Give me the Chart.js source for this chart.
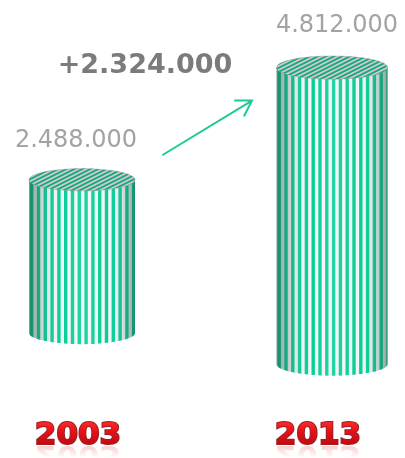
<!DOCTYPE html>
<html>
<head>
<meta charset="utf-8">
<script src="https://cdn.jsdelivr.net/npm/chart.js@4.4.1/dist/chart.umd.min.js"></script>
<style>
  html, body { margin: 0; padding: 0; background: #ffffff; }
  #wrap { width: 405px; height: 458px; position: relative; }
</style>
</head>
<body>
<div id="wrap"><canvas id="c" width="405" height="458"></canvas></div>
<script>
// Population totals per year
const years = ['2003', '2013'];
const totals = [2488000, 4812000];
const growthLabel = '+' + (totals[1] - totals[0]).toLocaleString('de-DE');

const TEAL = '#04cf98';
const fmt = v => v.toLocaleString('de-DE');

// Draws each bar as a striped 3D cylinder, plus value labels, growth arrow and year labels
const cylinderPlugin = {
  id: 'cylinders',
  afterDatasetsDraw(chart, args, opts) {
    const ctx = chart.ctx;
    const meta = chart.getDatasetMeta(0);
    const bars = meta.data.map((bar, i) => {
      const p = bar.getProps(['x', 'y', 'base', 'width'], true);
      // earlier year sits further back: a little smaller and higher
      const rear = i === 0;
      const w = p.width * (rear ? opts.rearShrink : 1);
      const lift = rear ? opts.rearLift : 0;
      return { cx: p.x, top: p.y - lift, bottom: p.base - lift, w, rx: w / 2, ry: w * 0.105 };
    });

    bars.forEach(b => drawCylinder(ctx, b));

    // value labels above each cylinder
    ctx.save();
    ctx.textAlign = 'center';
    ctx.textBaseline = 'alphabetic';
    ctx.font = '24px "DejaVu Sans", Verdana, sans-serif';
    ctx.fillStyle = '#a3a3a3';
    bars.forEach((b, i) => {
      ctx.fillText(fmt(totals[i]), b.cx - (i === 0 ? 6 : -5), b.top - b.ry - (i === 0 ? 22 : 24));
    });

    // growth annotation
    ctx.font = 'bold 27px "DejaVu Sans", Verdana, sans-serif';
    ctx.fillStyle = '#7b7b7b';
    ctx.fillText(growthLabel, bars[0].cx + 63, bars[1].top + 5);

    // arrow between the two cylinders
    const x0 = bars[0].cx + 81, y0 = bars[0].top - 25;
    const x1 = bars[1].cx - 80, y1 = bars[1].top + 33;
    const ang = Math.atan2(y1 - y0, x1 - x0);
    ctx.strokeStyle = '#1ec998';
    ctx.lineWidth = 2;
    ctx.lineCap = 'round';
    ctx.beginPath();
    ctx.moveTo(x0, y0);
    ctx.lineTo(x1, y1);
    ctx.moveTo(x1 - 17 * Math.cos(ang - 0.55), y1 - 17 * Math.sin(ang - 0.55));
    ctx.lineTo(x1, y1);
    ctx.lineTo(x1 - 17 * Math.cos(ang + 0.55), y1 - 17 * Math.sin(ang + 0.55));
    ctx.stroke();
    ctx.restore();

    // year labels with a faded reflection
    const xs = chart.scales.x;
    years.forEach((yr, i) => {
      const x = xs.getPixelForTick(i) - (i === 0 ? 4 : 14);
      drawYear(ctx, yr, x, 444);
    });
  }
};

function bodyPath(ctx, b) {
  const l = b.cx - b.rx, r = b.cx + b.rx;
  ctx.beginPath();
  ctx.moveTo(l, b.top);
  ctx.lineTo(l, b.bottom);
  ctx.ellipse(b.cx, b.bottom, b.rx, b.ry, 0, Math.PI, 0, true);
  ctx.lineTo(r, b.top);
  ctx.closePath();
}

function drawCylinder(ctx, b) {
  const l = b.cx - b.rx, r = b.cx + b.rx;
  // body
  ctx.save();
  bodyPath(ctx, b);
  ctx.clip();
  ctx.fillStyle = '#f4f4f4';
  ctx.fillRect(l - 2, b.top - 2, b.w + 4, b.bottom - b.top + b.ry + 4);
  const period = 6.8;
  ctx.fillStyle = TEAL;
  for (let x = l + 1; x < r + period; x += period) {
    ctx.fillRect(x, b.top - 2, period * 0.5, b.bottom - b.top + b.ry + 4);
  }
  const g = ctx.createLinearGradient(l, 0, r, 0);
  g.addColorStop(0, 'rgba(40,80,70,0.55)');
  g.addColorStop(0.12, 'rgba(60,90,80,0.22)');
  g.addColorStop(0.3, 'rgba(255,255,255,0.0)');
  g.addColorStop(0.5, 'rgba(255,255,255,0.12)');
  g.addColorStop(0.75, 'rgba(255,255,255,0.0)');
  g.addColorStop(0.9, 'rgba(60,90,80,0.2)');
  g.addColorStop(1, 'rgba(40,80,70,0.5)');
  ctx.fillStyle = g;
  ctx.fillRect(l - 2, b.top - 2, b.w + 4, b.bottom - b.top + b.ry + 4);
  ctx.restore();

  // top face with diagonal stripes
  ctx.save();
  ctx.beginPath();
  ctx.ellipse(b.cx, b.top, b.rx, b.ry, 0, 0, Math.PI * 2);
  ctx.clip();
  ctx.fillStyle = '#c2c2c2';
  ctx.fillRect(l - 2, b.top - b.ry - 2, b.w + 4, b.ry * 2 + 4);
  ctx.translate(b.cx, b.top);
  ctx.transform(1, 0, -2, 1, 0, 0);
  for (let x = -b.w * 1.5; x < b.w * 1.5; x += 8) {
    ctx.fillStyle = '#16a980';
    ctx.fillRect(x, -b.ry - 2, 4, b.ry * 2 + 4);
    ctx.fillStyle = '#d6d6d6';
    ctx.fillRect(x + 5, -b.ry - 2, 1.5, b.ry * 2 + 4);
  }
  ctx.restore();
  ctx.save();
  ctx.beginPath();
  ctx.ellipse(b.cx, b.top, b.rx, b.ry, 0, 0, Math.PI * 2);
  ctx.strokeStyle = 'rgba(140,150,145,0.4)';
  ctx.lineWidth = 1;
  ctx.stroke();
  ctx.restore();
}

function drawYear(ctx, txt, x, y) {
  ctx.save();
  ctx.font = 'bold 31px "DejaVu Sans", Verdana, sans-serif';
  ctx.textAlign = 'center';
  ctx.textBaseline = 'alphabetic';
  // reflection
  ctx.save();
  ctx.translate(0, 2 * y + 2);
  ctx.scale(1, -1);
  ctx.globalAlpha = 0.28;
  ctx.fillStyle = '#e0141c';
  ctx.fillText(txt, x, y);
  ctx.restore();
  const fade = ctx.createLinearGradient(0, y + 1, 0, y + 14);
  fade.addColorStop(0, 'rgba(255,255,255,0.2)');
  fade.addColorStop(1, 'rgba(255,255,255,1)');
  ctx.fillStyle = fade;
  ctx.fillRect(x - 60, y + 1, 120, 14);
  // main text
  const g = ctx.createLinearGradient(0, y - 23, 0, y);
  g.addColorStop(0, '#ff2a2a');
  g.addColorStop(0.5, '#e3101a');
  g.addColorStop(1, '#c40a12');
  ctx.lineWidth = 2;
  ctx.strokeStyle = '#9a2020';
  ctx.strokeText(txt, x, y);
  ctx.fillStyle = g;
  ctx.fillText(txt, x, y);
  ctx.restore();
}

new Chart(document.getElementById('c'), {
  type: 'bar',
  data: {
    labels: years,
    datasets: [{
      data: totals,
      backgroundColor: 'rgba(0,0,0,0)',
      borderWidth: 0,
      barThickness: 111
    }]
  },
  options: {
    responsive: false,
    animation: false,
    layout: { padding: { left: 82, right: 73, top: 56, bottom: 94 } },
    plugins: {
      legend: { display: false },
      tooltip: { enabled: false },
      cylinders: { rearLift: 31, rearShrink: 0.955 }
    },
    scales: {
      x: { display: false, offset: false },
      y: { display: false, min: 0, max: 5000000 }
    }
  },
  plugins: [cylinderPlugin]
});
</script>
</body>
</html>
